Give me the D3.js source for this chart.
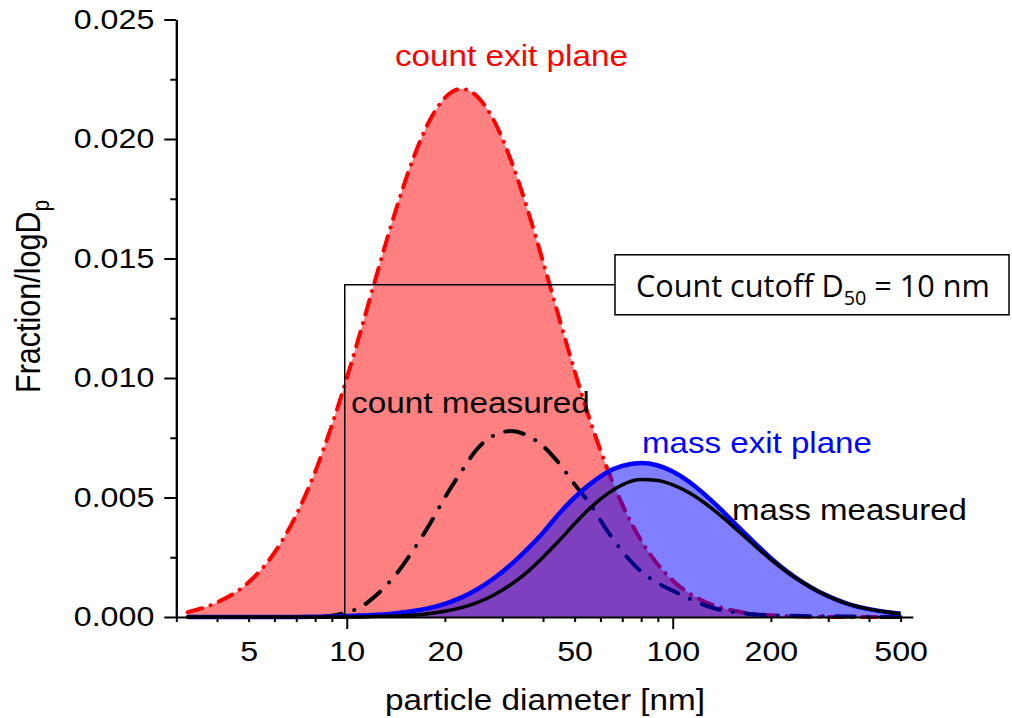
<!DOCTYPE html>
<html>
<head>
<meta charset="utf-8">
<script src="https://cdn.jsdelivr.net/npm/d3@7"></script>
<style>
  body { margin: 0; background: #fff; }
  svg { display: block; font-family: "Liberation Sans", Arial, sans-serif; }
</style>
</head>
<body>
<svg id="chart" width="1012" height="718"></svg>
<script>
// particle diameters [nm] the curves are read at
const diameters = [3.25, 4, 5, 6, 7, 8, 9, 10, 11, 12, 14, 16, 18, 20, 22.5, 25, 28, 32, 36, 40,
  45, 50, 56, 63, 70, 80, 90, 100, 112, 125, 140, 160, 180, 200, 225, 250, 280, 315, 350, 400, 450, 500];

// Fraction/logDp
const countExit = [0.0002, 0.00061, 0.00145, 0.00269, 0.00427, 0.00608, 0.00802, 0.00999, 0.0119, 0.01371,
  0.01683, 0.01919, 0.0208, 0.02172, 0.0221, 0.02181, 0.02088, 0.01906, 0.01697, 0.01487,
  0.01243, 0.01029, 0.00815, 0.0062, 0.00471, 0.0032, 0.0022, 0.00153, 0.001, 0.00065,
  0.0004, 0.00022, 0.00012, 0.00007, 0.00004, 0.00002, 0.00001, 0, 0, 0, 0, 0];

const countMeasured = [0, 0, 0, 0, 0, 0, 0.00005, 0.0002, 0.0004, 0.00078,
  0.0017, 0.0028, 0.0039, 0.005, 0.0061, 0.007, 0.00757, 0.00778, 0.00758, 0.00715,
  0.0064, 0.00555, 0.0047, 0.0036, 0.00275, 0.0019, 0.00142, 0.0011, 0.00078, 0.0005,
  0.0003, 0.00018, 0.0001, 0.00007, 0.00005, 0.00004, 0.00003, 0.00003, 0.00002, 0.00001, 0, 0];

const massExit = [0, 0, 0, 0, 0, 0.00001, 0.00002, 0.00004, 0.00006, 0.00008,
  0.00015, 0.00025, 0.00038, 0.00055, 0.00082, 0.00114, 0.00158, 0.00221, 0.00287, 0.00353,
  0.00435, 0.005, 0.00558, 0.00606, 0.00632, 0.00644, 0.00634, 0.00609, 0.00567, 0.00514,
  0.00452, 0.00373, 0.00305, 0.00246, 0.00189, 0.00146, 0.00107, 0.00075, 0.00052, 0.00033, 0.00021, 0.00014];

const massMeasured = [0, 0, 0, 0, 0, 0, 0, 0, 0, 0.00002,
  0.00004, 0.00008, 0.00015, 0.00024, 0.00039, 0.00059, 0.00089, 0.00137, 0.00191, 0.00250,
  0.00322, 0.0039, 0.00458, 0.00515, 0.00553, 0.00575, 0.00571, 0.00553, 0.00521, 0.00478,
  0.00425, 0.00356, 0.00294, 0.0024, 0.00186, 0.00144, 0.00106, 0.00074, 0.00052, 0.00033, 0.00021, 0.00014];

const xTickLabels = [5, 10, 20, 50, 100, 200, 500];
const xMajorTicks = [10, 100];
const xMinorTicks = [3, 4, 5, 6, 7, 8, 9, 20, 30, 40, 50, 60, 70, 80, 90, 200, 300, 400, 500];
const yTickLabels = [0, 0.005, 0.01, 0.015, 0.02, 0.025];
const yMinorTicks = [0.0025, 0.0075, 0.0125, 0.0175, 0.0225];
const cutoffD50 = 10;
const cutoffLevel = 0.0139;

const svg = d3.select("#chart");
const stretch = 1.15; // the original picture is a little wider than tall

const x = d3.scaleLog().domain([3, 545]).range([176.3, 912.8]);
const y = d3.scaleLinear().domain([0, 0.025]).range([617, 19.5]);

const series = vals => diameters.map((d, i) => [d, vals[i]]);
const line = d3.line().x(d => x(d[0])).y(d => y(d[1])).curve(d3.curveMonotoneX);
const area = d3.area().x(d => x(d[0])).y0(y(0)).y1(d => y(d[1])).curve(d3.curveMonotoneX);

//------------------------------------------------------//
// curves (order matters for the colour mixing)
//------------------------------------------------------//
svg.append("path").attr("d", area(series(countExit))).attr("fill", "#ff8080");
svg.append("path").attr("d", line(series(countExit)))
  .attr("fill", "none").attr("stroke", "#ff0000").attr("stroke-width", 4)
  .attr("stroke-linecap", "round").attr("stroke-dasharray", "15 9 0.1 9");

svg.append("path").attr("d", line(series(countMeasured)))
  .attr("fill", "none").attr("stroke", "#000").attr("stroke-width", 4)
  .attr("stroke-linecap", "round").attr("stroke-dasharray", "19 13 0.1 13");

svg.append("path").attr("d", area(series(massExit))).attr("fill", "#0000ff").attr("fill-opacity", 0.5);
svg.append("path").attr("d", line(series(massExit)))
  .attr("fill", "none").attr("stroke", "#0000ff").attr("stroke-width", 4.5);

svg.append("path").attr("d", line(series(massMeasured)))
  .attr("fill", "none").attr("stroke", "#000").attr("stroke-width", 3.5);

//------------------------------------------------------//
// cutoff annotation
//------------------------------------------------------//
const boxX = 615, boxW = 394, boxH = 60;
const lineY = y(cutoffLevel);
svg.append("path")
  .attr("d", `M${boxX},${lineY}H${x(cutoffD50) - 2}V${y(0)}`)
  .attr("fill", "none").attr("stroke", "#000").attr("stroke-width", 1.5);
svg.append("rect")
  .attr("x", boxX).attr("y", lineY - 30).attr("width", boxW).attr("height", boxH)
  .attr("fill", "#fff").attr("stroke", "#000").attr("stroke-width", 1.5);

function label(px, py, target, opts, build) {
  const g = svg.append("g").attr("transform", `translate(${px},${py})`);
  const t = g.append("text")
    .attr("font-size", opts.size)
    .attr("fill", opts.color || "#000")
    .attr("text-anchor", opts.anchor || "start");
  if (opts.family) t.attr("font-family", opts.family);
  build(t);
  const w = t.node().getBBox().width;
  t.attr("transform", `scale(${target / w},${opts.sy || 1})`);
  return t;
}

label(636, lineY + 12, 354, { size: 31, family: "'Open Sans', 'Noto Sans', sans-serif" }, t => {
  t.append("tspan").text("Count cutoff D");
  t.append("tspan").attr("font-size", 20).attr("dy", 8).text("50");
  t.append("tspan").attr("dy", -8).text(" = 10 nm");
});

//------------------------------------------------------//
// curve labels
//------------------------------------------------------//
label(395, 66, 233, { size: 29, color: "#ff0000" }, t => t.text("count exit plane"));
label(351, 413, 239, { size: 29 }, t => t.text("count measured"));
label(642, 453, 230, { size: 29, color: "#0000ff" }, t => t.text("mass exit plane"));
label(732, 520, 235, { size: 29 }, t => t.text("mass measured"));

//------------------------------------------------------//
// axes
//------------------------------------------------------//
const styleAxis = g => {
  g.selectAll("path, line").attr("stroke", "#000").attr("stroke-width", 2);
  g.selectAll("text").attr("font-size", 28).attr("fill", "#000")
    .attr("font-family", "'Liberation Sans', Arial, sans-serif");
};

svg.append("g").attr("transform", `translate(0,${y(0)})`)
  .call(d3.axisBottom(x).tickValues(xMinorTicks).tickSize(5).tickSizeOuter(0).tickFormat(""))
  .call(styleAxis);
svg.append("g").attr("transform", `translate(0,${y(0)})`)
  .call(d3.axisBottom(x).tickValues(xMajorTicks).tickSize(12).tickSizeOuter(0).tickFormat(""))
  .call(g => g.select(".domain").remove())
  .call(styleAxis);
svg.append("g").attr("transform", `translate(0,${y(0)})`)
  .call(d3.axisBottom(x).tickValues(xTickLabels).tickSize(0).tickPadding(24).tickFormat(d3.format("d")))
  .call(g => g.select(".domain").remove())
  .call(styleAxis)
  .call(g => g.selectAll("text").attr("transform", `scale(${stretch},1)`));

const yAxisX = x(3);
svg.append("g").attr("transform", `translate(${yAxisX},0)`)
  .call(d3.axisLeft(y).tickValues(yMinorTicks).tickSize(6).tickSizeOuter(0).tickFormat(""))
  .call(styleAxis);
svg.append("g").attr("transform", `translate(${yAxisX},0)`)
  .call(d3.axisLeft(y).tickValues(yTickLabels).tickSize(12).tickPadding(10).tickSizeOuter(0).tickFormat(d3.format(".3f")))
  .call(styleAxis)
  .call(g => g.selectAll("text").attr("x", 0).attr("transform", `translate(-22,0) scale(${stretch},1)`));

// axis titles
label(545, 710, 320, { size: 29, anchor: "middle" }, t => t.text("particle diameter [nm]"));

const yTitle = svg.append("g").attr("transform", "translate(40,393) rotate(-90)");
const yt = yTitle.append("text").attr("font-size", 30).attr("fill", "#000");
yt.append("tspan").text("Fraction/logD");
yt.append("tspan").attr("font-size", 20).attr("dy", 8).text("p");
const ytw = yt.node().getBBox().width;
yt.attr("transform", `scale(${193 / ytw},${stretch})`);
</script>
</body>
</html>
